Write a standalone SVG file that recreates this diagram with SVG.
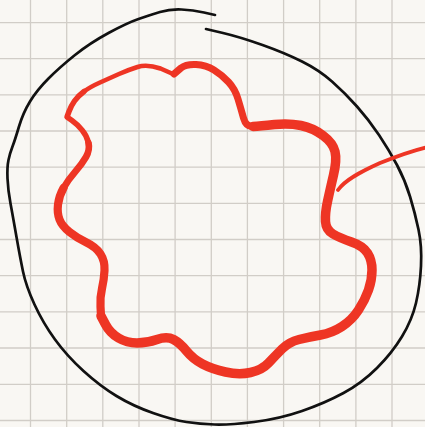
<svg xmlns="http://www.w3.org/2000/svg" width="425" height="427" viewBox="0 0 425 427">
<style>
.grid line{stroke:#d1cdc7;stroke-width:1.3}
.ink{fill:none;stroke:#111;stroke-width:2.7;stroke-linecap:round;stroke-linejoin:round}
.red{fill:none;stroke:#ee3524;stroke-linecap:round;stroke-linejoin:round}
</style>
<rect width="425" height="427" fill="#f9f7f3"/>
<g class="grid">
<line x1="30.5" y1="0" x2="30.5" y2="427"/>
<line x1="66.7" y1="0" x2="66.7" y2="427"/>
<line x1="102.8" y1="0" x2="102.8" y2="427"/>
<line x1="139" y1="0" x2="139" y2="427"/>
<line x1="175.1" y1="0" x2="175.1" y2="427"/>
<line x1="211.3" y1="0" x2="211.3" y2="427"/>
<line x1="247.4" y1="0" x2="247.4" y2="427"/>
<line x1="283.6" y1="0" x2="283.6" y2="427"/>
<line x1="319.7" y1="0" x2="319.7" y2="427"/>
<line x1="355.9" y1="0" x2="355.9" y2="427"/>
<line x1="392" y1="0" x2="392" y2="427"/>
<line x1="0" y1="22.6" x2="425" y2="22.6"/>
<line x1="0" y1="58.7" x2="425" y2="58.7"/>
<line x1="0" y1="94.8" x2="425" y2="94.8"/>
<line x1="0" y1="131" x2="425" y2="131"/>
<line x1="0" y1="167.2" x2="425" y2="167.2"/>
<line x1="0" y1="203.3" x2="425" y2="203.3"/>
<line x1="0" y1="239.5" x2="425" y2="239.5"/>
<line x1="0" y1="275.7" x2="425" y2="275.7"/>
<line x1="0" y1="311.8" x2="425" y2="311.8"/>
<line x1="0" y1="348" x2="425" y2="348"/>
<line x1="0" y1="384.3" x2="425" y2="384.3"/>
<line x1="0" y1="420.5" x2="425" y2="420.5"/>
</g>
<g id="outer-circle">
<path class="ink" d="M206,29 L223,33 Q240,37 262.5,45 Q285,53 302,61.5 Q319,70 332,81.5 Q345,93 357,106.5 Q369,120 379,135 Q389,150 397,165 Q405,180 410,196.5 Q415,213 418.5,229.5 Q422,246 421,266 Q420,286 416,303 Q412,320 402,336.5 Q392,353 377,368 Q362,383 343.5,393 Q325,403 302,411 Q279,419 254,422 Q229,425 214.5,424.5 Q200,424 186.5,422 Q173,420 153,413 Q133,406 116.5,396 Q100,386 83.5,371 Q67,356 55,339.5 Q43,323 34.5,304.5 Q26,286 23,271.5 Q20,257 16.5,237 Q13,217 10.5,203.5 Q8,190 7.5,178.5 Q7,167 8.5,160 Q10,153 12.5,146.5 Q15,140 19,126.5 Q23,113 30,101.5 Q37,90 48.5,78.5 Q60,67 75,55 Q90,43 108.5,33 Q127,23 138.5,19 Q150,15 160,12 Q170,9 181.5,9.5 Q193,10 204,12.5 L215,15"/>
</g>
<g id="red-blob">
<path class="red" stroke-width="4.6" d="M173,74 L160.5,68.5 Q147,64 137.5,67 Q128,70 119,74 Q110,78 100,82.5 Q90,87 84,91.5"/>
<path class="red" stroke-width="5.5" d="M84,91.5 Q78,96 74.5,101 Q71,106 69,111.5 L67,117 L72,120.5 Q77,124 82,130 Q87,136 88.5,143"/>
<path class="red" stroke-width="6.7" d="M88.5,143 Q90,150 86,157 Q82,164 75,172 Q68,180 63.5,188"/>
<path class="red" stroke-width="8.2" d="M63.5,188 Q59,196 58,204.5 Q57,213 59.5,219.5 Q62,226 69.5,232 Q77,238 86.5,242.5 Q96,247 100.5,254 Q105,261 104.5,270.5 Q104,280 102,288.5 Q100,297 100.5,306.5 L101,316"/>
<path class="red" stroke-width="9.5" d="M101,316 L105.5,324.5 Q110,333 118.5,338 Q127,343 137,343 Q147,343 157,339.5 Q167,336 173.5,339.5 Q180,343 186.5,351 Q193,359 202.5,364 Q212,369 225.5,372 Q239,375 250.5,372.5 Q262,370 268.5,363 Q275,356 282,349 Q289,342 299,339.5 Q309,337 320.5,335 Q332,333 342,326.5 Q352,320 358.5,310 Q365,300 368.5,290 Q372,280 372,270 Q372,260 367.5,253 Q363,246 351.5,242 Q340,238 333,234 Q326,230 325.5,221.5 Q325,213 327.5,201.5 Q330,190 333.5,175 Q337,160 335,151.5 Q333,143 323,135.5 Q313,128 301,125.5 Q289,123 274.5,124.5 Q260,126 253,126.5"/>
<path class="red" stroke-width="7" d="M253,126.5 Q246,127 243.5,118 Q241,109 238,99 Q235,89 228.5,82 Q222,75 214,70 Q206,65 196,64.5 Q186,64 181,68 L174,74"/>
</g>
<g id="connectors">
<path class="red" stroke-width="3.8" d="M338,190 C345,180 360,172 380,163 C395,157 410,151 428,147"/>
</g>
</svg>
